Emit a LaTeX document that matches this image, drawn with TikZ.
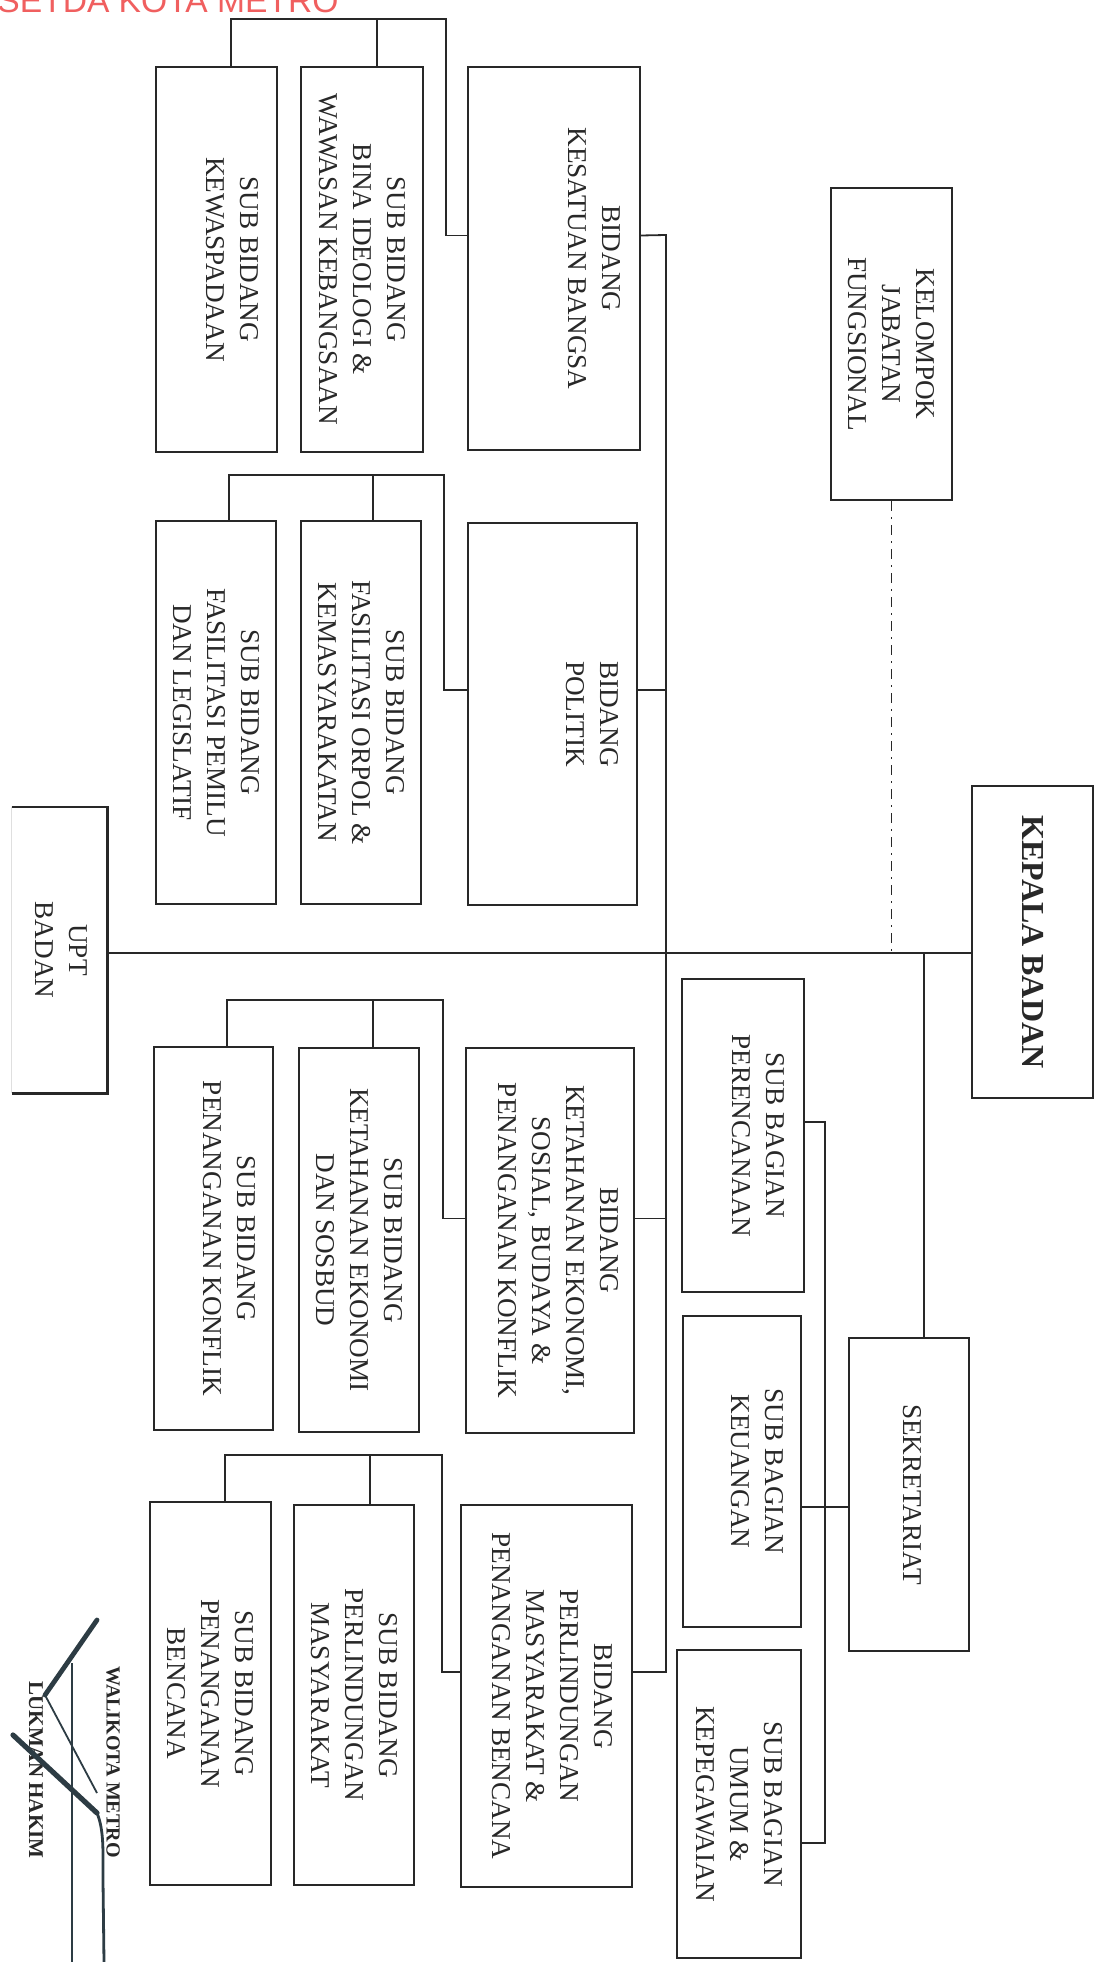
\documentclass[tikz,border=0pt]{standalone}
\usepackage{fontspec}
\setmainfont{Liberation Serif}
\newfontfamily\hdrfont{Liberation Sans}
\definecolor{ink}{RGB}{40,40,40}
\definecolor{hdr}{RGB}{240,95,95}
\definecolor{sig}{RGB}{45,60,68}
\tikzset{
  box/.style={draw=ink, line width=1.1pt, rectangle, inner sep=0pt},
  lbl/.style={rotate=-90, align=center, inner sep=0pt, text=ink, font=\fontsize{13.6}{17}\selectfont},
  conn/.style={draw=ink, line width=0.9pt},
  dconn/.style={draw=ink, line width=0.9pt, dash pattern=on 5pt off 3pt on 1pt off 3pt}
}
\newcommand{\orgbox}[6][box]{\node[#1, minimum width={(#5-#3)*0.5pt}, minimum height={(#6-#4)*0.5pt}] (#2) at ({(#3+#5)/2},{(#4+#6)/2}) {};}
\newcommand{\orglabel}[3]{\node[lbl] (#1-t) at ([xshift=#2]#1.center) {#3};}
\begin{document}
\begin{tikzpicture}[x=0.5pt, y=-0.5pt]
\useasboundingbox (0,0) rectangle (1104,1962);
\fill[white] (0,0) rectangle (1104,1962);

% header
\node[anchor=base west, text=hdr, font=\hdrfont\fontsize{16.8}{20}\selectfont, inner sep=0pt] (hdr) at (-3,13) {SETDA KOTA METRO};

% boxes
\orgbox{kel}{831}{188}{952}{500}
\orgbox{kes}{468}{67}{640}{450}
\orgbox{bina}{301}{67}{423}{452}
\orgbox{kew}{156}{67}{277}{452}
\orgbox{pol}{468}{523}{637}{905}
\orgbox{orpol}{301}{521}{421}{904}
\orgbox{pemilu}{156}{521}{276}{904}
\orgbox[inner sep=0pt]{upt}{12}{807}{107}{1093}
\orgbox{kep}{972}{786}{1093}{1098}
\orgbox{pere}{682}{979}{804}{1292}
\orgbox{keu}{683}{1316}{801}{1627}
\orgbox{umum}{677}{1650}{801}{1958}
\orgbox{sek}{849}{1338}{969}{1651}
\orgbox{ket}{466}{1048}{634}{1433}
\orgbox{ketsub}{299}{1048}{419}{1432}
\orgbox{konf}{154}{1047}{273}{1430}
\orgbox{perl}{461}{1505}{632}{1887}
\orgbox{perlsub}{294}{1505}{414}{1885}
\orgbox{benc}{150}{1502}{271}{1885}

% UPT box: left edge faded
\draw[ink, line width=1.1pt] (upt.north west) -- (upt.north east) -- (upt.south east) -- (upt.south west);
\draw[gray!25, line width=0.8pt] (upt.south west) -- (upt.north west);

% labels
\orglabel{kel}{0pt}{KELOMPOK\\JABATAN\\FUNGSIONAL}
\orglabel{kes}{20pt}{BIDANG\\KESATUAN BANGSA}
\orglabel{bina}{0pt}{SUB BIDANG\\BINA IDEOLOGI \&\\WAWASAN KEBANGSAAN}
\orglabel{kew}{8pt}{SUB BIDANG\\KEWASPADAAN}
\orglabel{pol}{20pt}{BIDANG\\POLITIK}
\orglabel{orpol}{0pt}{SUB BIDANG\\FASILITASI ORPOL \&\\KEMASYARAKATAN}
\orglabel{pemilu}{0pt}{SUB BIDANG\\FASILITASI PEMILU\\DAN LEGISLATIF}
\orglabel{upt}{1pt}{UPT\\BADAN}
\node[lbl, font=\bfseries\fontsize{16}{19}\selectfont] (kep-t) at (kep.center) {KEPALA BADAN};
\orglabel{pere}{7.5pt}{SUB BAGIAN\\PERENCANAAN}
\orglabel{keu}{7.5pt}{SUB BAGIAN\\KEUANGAN}
\orglabel{umum}{0pt}{SUB BAGIAN\\UMUM \&\\KEPEGAWAIAN}
\orglabel{sek}{1.5pt}{SEKRETARIAT}
\orglabel{ket}{4pt}{BIDANG\\KETAHANAN EKONOMI,\\SOSIAL, BUDAYA \&\\PENANGANAN KONFLIK}
\orglabel{ketsub}{0pt}{SUB BIDANG\\KETAHANAN EKONOMI\\DAN SOSBUD}
\orglabel{konf}{8pt}{SUB BIDANG\\PENANGANAN KONFLIK}
\orglabel{perl}{3pt}{BIDANG\\PERLINDUNGAN\\MASYARAKAT \&\\PENANGANAN BENCANA}
\orglabel{perlsub}{0pt}{SUB BIDANG\\PERLINDUNGAN\\MASYARAKAT}
\orglabel{benc}{0pt}{SUB BIDANG\\PENANGANAN\\BENCANA}

% junction points
\coordinate (kesL) at ([yshift=11.5pt]kes.west);
\coordinate (kesR) at ([yshift=11.5pt]kes.east);
\coordinate (polL) at ([yshift=12pt]pol.west);
\coordinate (polR) at ([yshift=12pt]pol.east);
\coordinate (ketL) at ([yshift=11pt]ket.west);
\coordinate (ketR) at ([yshift=11pt]ket.east);
\coordinate (perlL) at ([yshift=12pt]perl.west);
\coordinate (perlR) at ([yshift=12pt]perl.east);
\coordinate (spT) at (666,235);
\coordinate (spB) at (666,1672);

% brackets to sub-bidang
\coordinate (b1a) at (231,19); \coordinate (b1b) at (377,19); \coordinate (b1c) at (446,19);
\draw[conn] (b1a |- kew.north) -- (b1a) -- (b1c) |- (kesL);
\draw[conn] (b1b) -- (b1b |- bina.north);
\coordinate (b2a) at (229,475); \coordinate (b2b) at (373,475); \coordinate (b2c) at (444,475);
\draw[conn] (b2a |- pemilu.north) -- (b2a) -- (b2c) |- (polL);
\draw[conn] (b2b) -- (b2b |- orpol.north);
\coordinate (b3a) at (227,1000); \coordinate (b3b) at (373,1000); \coordinate (b3c) at (443,1000);
\draw[conn] (b3a |- konf.north) -- (b3a) -- (b3c) |- (ketL);
\draw[conn] (b3b) -- (b3b |- ketsub.north);
\coordinate (b4a) at (225,1455); \coordinate (b4b) at (370,1455); \coordinate (b4c) at (442,1455);
\draw[conn] (b4a |- benc.north) -- (b4a) -- (b4c) |- (perlL);
\draw[conn] (b4b) -- (b4b |- perlsub.north);

% main spine of bidang
\draw[conn] (kesR) -- (spT) -- (spB) -- (perlR);
\draw[conn] (polR) -- (polR -| spT);
\draw[conn] (ketR) -- (ketR -| spT);

% main horizontal from kepala to UPT
\coordinate (mainR) at ([yshift=-5.5pt]kep.west);
\draw[conn] (mainR) -- (mainR -| upt.east);
\draw[dconn] (kel.south) -- (kel.south |- mainR);
\coordinate (sekX) at (924,0);
\draw[conn] (sekX |- mainR) -- (sekX |- sek.north);

% sekretariat sub-bagian
\coordinate (pereR) at ([yshift=6.75pt]pere.east);
\coordinate (keuR) at ([yshift=-17.75pt]keu.east);
\coordinate (umumR) at ([yshift=-19.5pt]umum.east);
\coordinate (sbX) at (825,0);
\draw[conn] (pereR) -- (pereR -| sbX) -- (umumR -| sbX) -- (umumR);
\draw[conn] (keuR) -- (keuR -| sek.west);

% signature block
\node[rotate=-90, inner sep=0pt, text=ink, font=\bfseries\fontsize{10}{12}\selectfont] (wal) at (113,1762) {WALIKOTA METRO};
\node[rotate=-90, inner sep=0pt, text=ink, font=\bfseries\fontsize{10.5}{12}\selectfont] (luk) at (36,1770) {LUKMAN HAKIM};
\draw[sig, line width=2.4pt, line cap=round] (97,1620) -- (45,1695);
\draw[sig, line width=0.9pt] (45,1695) -- (97,1793);
\draw[sig, line width=1.2pt] (72,1663) -- (72,1962);
\draw[sig, line width=2.6pt, line cap=round] (13,1735) -- (97,1813);
\draw[sig, line width=1.4pt] (97,1813) .. controls (104,1830) and (103,1850) .. (103,1880) -- (104,1962);
\end{tikzpicture}
\end{document}
